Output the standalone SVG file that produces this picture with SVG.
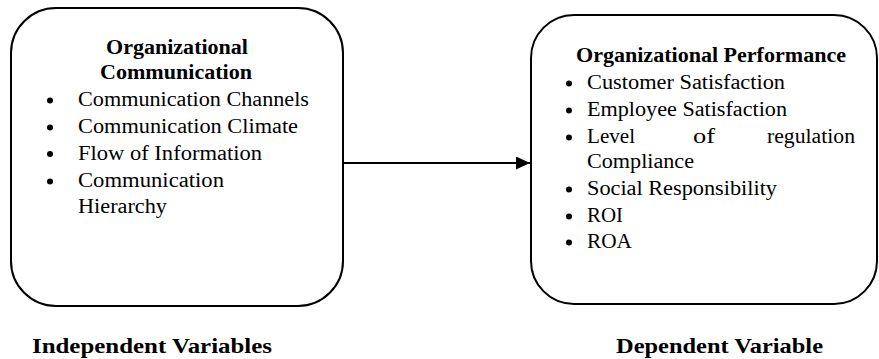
<svg xmlns="http://www.w3.org/2000/svg" width="879" height="359" viewBox="0 0 879 359">
<defs>
  <marker id="arrow" viewBox="0 0 14 13" refX="14" refY="6.5" markerWidth="14" markerHeight="13" markerUnits="userSpaceOnUse" orient="auto">
    <path d="M0,0 L14,6.5 L0,13 Z" fill="#000000"/>
  </marker>
</defs>
<rect width="879" height="359" fill="#ffffff"/>
<g id="connectors">
  <line x1="343" y1="163" x2="530" y2="163" stroke="#000000" stroke-width="2" marker-end="url(#arrow)"/>
</g>
<g id="independent" font-family="Liberation Serif" font-size="20" fill="#000000">
  <rect x="11" y="8" width="332" height="298" rx="45" ry="45" fill="#ffffff" stroke="#000000" stroke-width="2"/>
  <text font-weight="bold" x="106" y="54" textLength="142" lengthAdjust="spacingAndGlyphs">Organizational</text>
  <text font-weight="bold" x="100" y="79" textLength="152" lengthAdjust="spacingAndGlyphs">Communication</text>
  <circle cx="50" cy="100.5" r="3"/>
  <text x="78" y="106" textLength="231" lengthAdjust="spacingAndGlyphs">Communication Channels</text>
  <circle cx="50" cy="127.5" r="3"/>
  <text x="78" y="133" textLength="220" lengthAdjust="spacingAndGlyphs">Communication Climate</text>
  <circle cx="50" cy="154" r="3"/>
  <text x="78" y="159.5" textLength="184" lengthAdjust="spacingAndGlyphs">Flow of Information</text>
  <circle cx="50" cy="181.5" r="3"/>
  <text x="78" y="187" textLength="146" lengthAdjust="spacingAndGlyphs">Communication</text>
  <text x="78" y="213" textLength="89" lengthAdjust="spacingAndGlyphs">Hierarchy</text>
</g>
<g id="dependent" font-family="Liberation Serif" font-size="20" fill="#000000">
  <rect x="531" y="15" width="346" height="289" rx="43" ry="43" fill="#ffffff" stroke="#000000" stroke-width="2"/>
  <text font-weight="bold" x="576" y="62" textLength="270" lengthAdjust="spacingAndGlyphs">Organizational Performance</text>
  <circle cx="569" cy="83.5" r="3"/>
  <text x="587" y="89" textLength="198" lengthAdjust="spacingAndGlyphs">Customer Satisfaction</text>
  <circle cx="569" cy="110.5" r="3"/>
  <text x="587" y="116" textLength="200" lengthAdjust="spacingAndGlyphs">Employee Satisfaction</text>
  <circle cx="569" cy="137.5" r="3"/>
  <text x="587" y="143" textLength="48" lengthAdjust="spacingAndGlyphs">Level</text>
  <text x="693" y="143" textLength="22" lengthAdjust="spacingAndGlyphs">of</text>
  <text x="767" y="143" textLength="88" lengthAdjust="spacingAndGlyphs">regulation</text>
  <text x="587" y="167.5" textLength="107" lengthAdjust="spacingAndGlyphs">Compliance</text>
  <circle cx="569" cy="189.5" r="3"/>
  <text x="587" y="195" textLength="190" lengthAdjust="spacingAndGlyphs">Social Responsibility</text>
  <circle cx="569" cy="216.5" r="3"/>
  <text x="587" y="222" textLength="36" lengthAdjust="spacingAndGlyphs">ROI</text>
  <circle cx="569" cy="242.5" r="3"/>
  <text x="587" y="248" textLength="45" lengthAdjust="spacingAndGlyphs">ROA</text>
</g>
<g id="labels" font-family="Liberation Serif" font-size="22" font-weight="bold" fill="#000000">
  <text x="32" y="353" textLength="240" lengthAdjust="spacingAndGlyphs">Independent Variables</text>
  <text x="616" y="353" textLength="207" lengthAdjust="spacingAndGlyphs">Dependent Variable</text>
</g>
</svg>
